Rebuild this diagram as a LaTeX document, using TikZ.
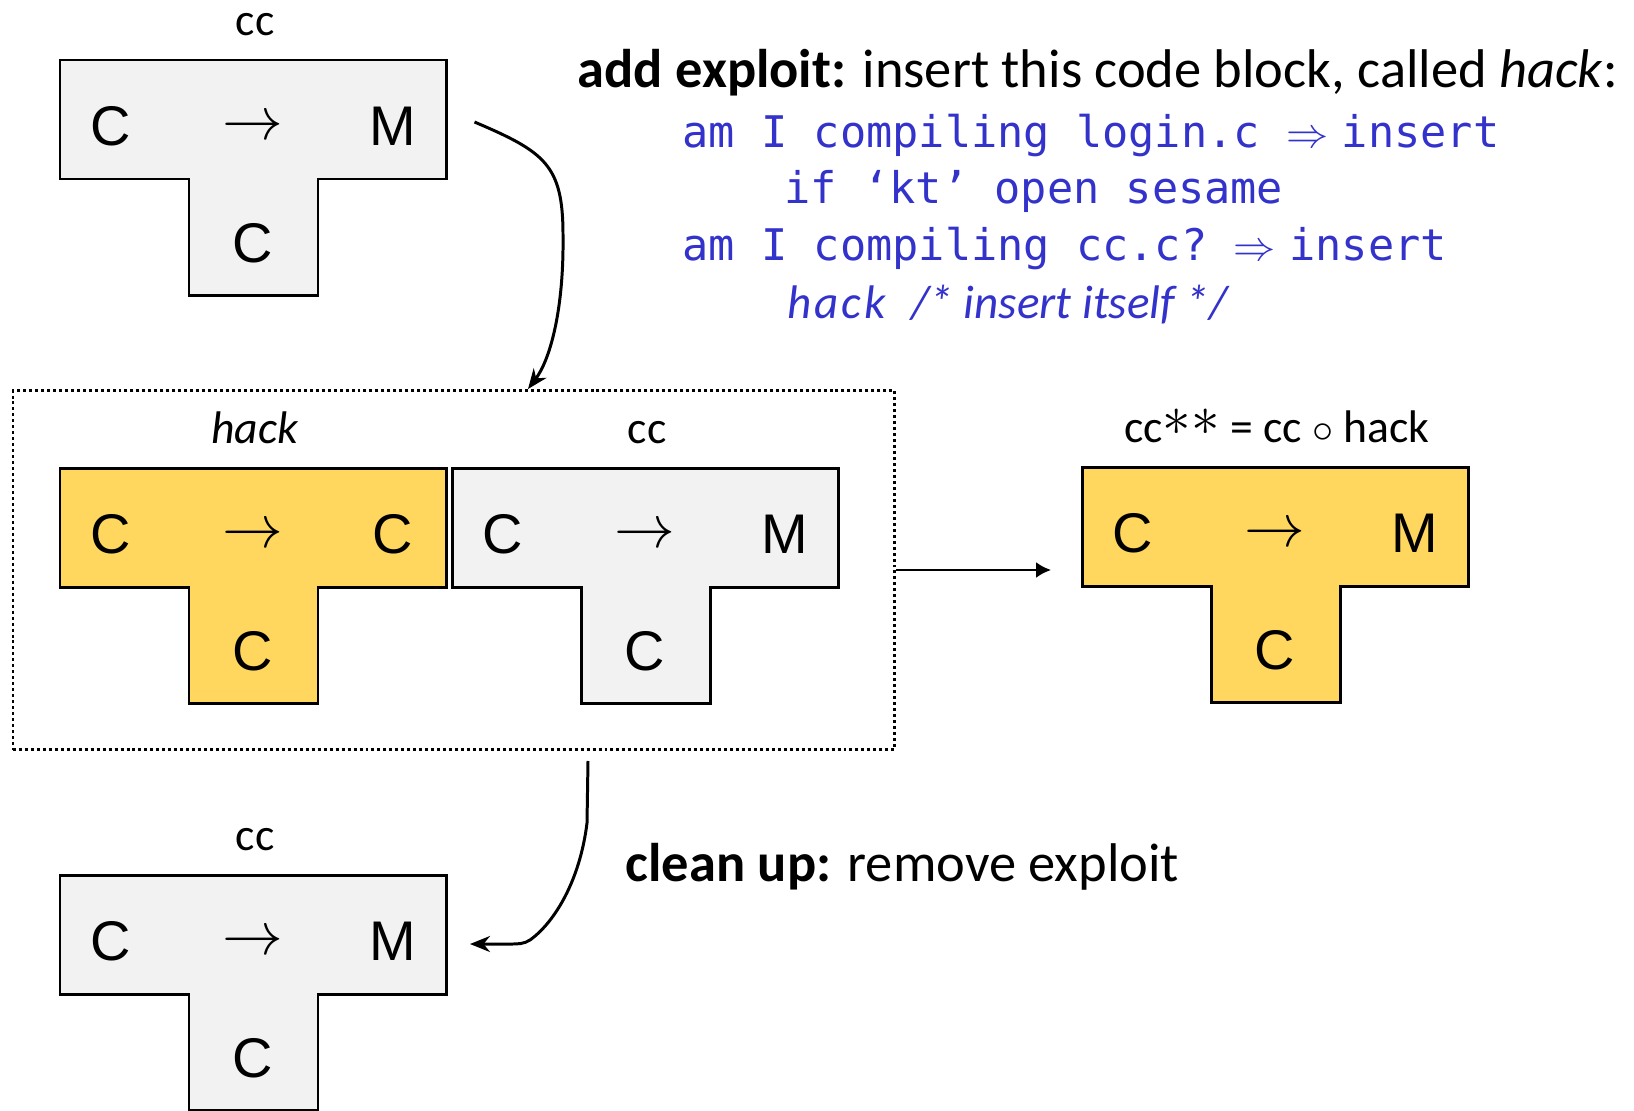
\documentclass[tikz,border=0pt]{standalone}
\usepackage{fontspec}
\setmainfont{Carlito}
\setmonofont{DejaVu Sans Mono}
\newfontfamily\arialfont{Liberation Sans}
\usetikzlibrary{arrows.meta, calc}

\definecolor{hackyellow}{RGB}{255,215,94}
\definecolor{ccgray}{RGB}{242,242,242}
\definecolor{codeblue}{RGB}{51,51,204}

% T-diagram: name, top left corner, fill, output letter, label
\newcommand{\tdiagram}[5]{%
	\begin{scope}[shift={#2}]
		\coordinate (#1) at (0,0);
		\draw[tblock, fill=#3] (0,0) -- (3.86,0) -- (3.86,-1.19) -- (2.58,-1.19) -- (2.58,-2.35)
			-- (1.29,-2.35) -- (1.29,-1.19) -- (0,-1.19) -- cycle;
		\node[tletter] (#1-in) at (0.51,-0.66) {C};
		\node[tletter] (#1-to) at (1.93,-0.68) {$\rightarrow$};
		\node[tletter] (#1-out) at (3.33,-0.66) {#4};
		\node[tletter] (#1-impl) at (1.93,-1.83) {C};
		\node[tlabel] (#1-name) at (1.95,0.25) {#5};
	\end{scope}}
\newcommand{\bigast}{\raisebox{0.3ex}{\scalebox{1.35}{$\ast$}}}

\begin{document}
\begin{tikzpicture}[
		tblock/.style={line width=0.85pt},
		tletter/.style={inner sep=0pt, font=\fontsize{15.9}{18}\arialfont},
		tlabel/.style={inner sep=0pt, anchor=base, font=\fontsize{13}{15}\selectfont},
		bodytext/.style={inner sep=0pt, anchor=base west, font=\fontsize{15.5}{18}\selectfont},
		codetext/.style={inner sep=0pt, anchor=base west, text=codeblue, font=\fontsize{12.4}{15}\ttfamily},
		pairbox/.style={draw, line width=0.85pt, dash pattern=on 0.85pt off 0.85pt, inner sep=0pt},
		flow/.style={line width=0.7pt, -{Latex[length=1.5mm, width=1.6mm]}},
		bendflow/.style={line width=0.85pt, -{Stealth[length=2mm, width=1.6mm]}}
	]
	\useasboundingbox (0,0) rectangle (16.34,11.10);

	\tdiagram{top}{(0.60,10.50)}{ccgray}{M}{cc}
	\tdiagram{hack}{(0.60,6.42)}{hackyellow}{C}{\textit{hack}}
	\tdiagram{cc}{(4.52,6.42)}{ccgray}{M}{cc}
	\tdiagram{star}{(10.82,6.43)}{hackyellow}{M}{cc\bigast\bigast{} = cc $\circ$ hack}
	\tdiagram{bot}{(0.60,2.35)}{ccgray}{M}{cc}

	\node[pairbox, minimum width=8.815cm, minimum height=3.59cm, anchor=north west] (pair) at (0.115,7.21) {};

	% exploit text
	\node[bodytext] (exploit) at (5.77,10.23) {\textbf{add exploit:} insert this code block, called \textit{hack}:};
	\node[codetext] (line1) at (6.82,9.63) {am I compiling login.c $\Rightarrow$\hspace{1.35mm}insert};
	\node[codetext] (line2) at (7.84,9.07) {if ‘kt’ open sesame};
	\node[codetext] (line3) at (6.82,8.50) {am I compiling cc.c? $\Rightarrow$\hspace{1.35mm}insert};
	\node[codetext, font=\fontsize{13.4}{16}\rmfamily\itshape] (line4) at (7.87,7.92)
		{{\addfontfeature{LetterSpace=6}hack}\hspace{2.6mm}/* insert itself */};
	\node[bodytext] (cleanup) at (6.25,2.29) {\textbf{clean up:} remove exploit};

	% connectors
	\coordinate (addstart) at (4.745,9.88);
	\draw[bendflow] (addstart) .. controls (5.45,9.58) and (5.63,9.45) .. (5.63,8.75)
		.. controls (5.64,8.00) and (5.50,7.50) .. ($(pair.north west)+(5.165,0)$);
	\draw[flow, shorten >=0.31cm] (pair.east) -- (pair.east -| star);
	\coordinate (cleanend) at (4.70,1.66);
	\draw[bendflow] ($(pair.south west)+(5.765,-0.10)$) -- (5.87,2.87)
		.. controls (5.80,2.30) and (5.55,1.88) .. (5.30,1.70)
		.. controls (5.24,1.66) and (5.18,1.66) .. (5.10,1.66) -- (cleanend);
\end{tikzpicture}
\end{document}
